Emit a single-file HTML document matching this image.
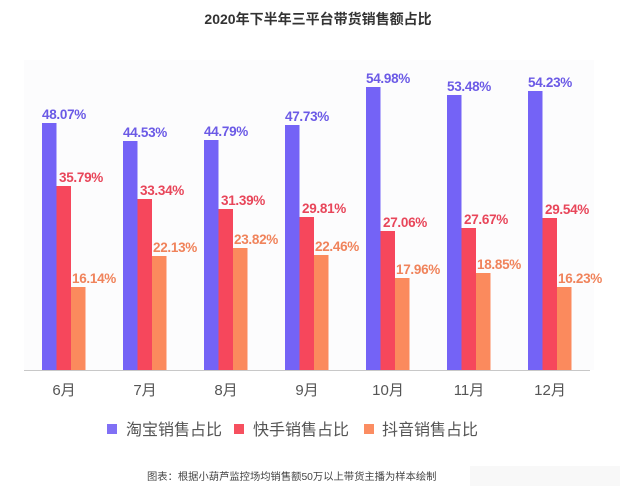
<!DOCTYPE html>
<html><head><meta charset="utf-8"><style>
html,body{margin:0;padding:0;background:#fff;}
svg{display:block;font-family:"Liberation Sans","Noto Sans CJK SC",sans-serif;}
.b{fill:#7463f6}.r{fill:#f6475c}.o{fill:#fb8a5d}
.lb{fill:#6b5ae6;font-weight:bold;font-size:13.5px;letter-spacing:-0.3px}
.lr{fill:#e8465a;font-weight:bold;font-size:13.5px;letter-spacing:-0.3px}
.lo{fill:#f0835b;font-weight:bold;font-size:13.5px;letter-spacing:-0.3px}
.m{fill:#555;font-size:15px;text-anchor:middle}
.lg{fill:#555;font-size:16px}
</style></head><body>
<svg width="638" height="502" viewBox="0 0 638 502">
<rect x="0" y="0" width="638" height="502" fill="#fff"/>
<rect x="24" y="60" width="570" height="310" fill="#fcfcfd"/>
<text x="318" y="24" text-anchor="middle" font-size="14" font-weight="bold" fill="#333">2020年下半年三平台带货销售额占比</text>
<line x1="24" y1="370.5" x2="590" y2="370.5" stroke="#c8c8c8" stroke-width="1"/>
<g>
<rect class="b" x="42" y="123" width="14.5" height="247"/><rect class="r" x="56.5" y="186" width="14.5" height="184"/><rect class="o" x="71" y="287" width="14.5" height="83"/>
<rect class="b" x="123" y="141" width="14.5" height="229"/><rect class="r" x="137.5" y="199" width="14.5" height="171"/><rect class="o" x="152" y="256" width="14.5" height="114"/>
<rect class="b" x="204" y="140" width="14.5" height="230"/><rect class="r" x="218.5" y="209" width="14.5" height="161"/><rect class="o" x="233" y="248" width="14.5" height="122"/>
<rect class="b" x="285" y="125" width="14.5" height="245"/><rect class="r" x="299.5" y="217" width="14.5" height="153"/><rect class="o" x="314" y="255" width="14.5" height="115"/>
<rect class="b" x="366" y="87" width="14.5" height="283"/><rect class="r" x="380.5" y="231" width="14.5" height="139"/><rect class="o" x="395" y="278" width="14.5" height="92"/>
<rect class="b" x="447" y="95" width="14.5" height="275"/><rect class="r" x="461.5" y="228" width="14.5" height="142"/><rect class="o" x="476" y="273" width="14.5" height="97"/>
<rect class="b" x="528" y="91" width="14.5" height="279"/><rect class="r" x="542.5" y="218" width="14.5" height="152"/><rect class="o" x="557" y="287" width="14.5" height="83"/>
</g>
<g>
<text class="lb" x="42" y="119">48.07%</text><text class="lr" x="59" y="182">35.79%</text><text class="lo" x="72" y="283">16.14%</text>
<text class="lb" x="123" y="137">44.53%</text><text class="lr" x="140" y="195">33.34%</text><text class="lo" x="153" y="252">22.13%</text>
<text class="lb" x="204" y="136">44.79%</text><text class="lr" x="221" y="205">31.39%</text><text class="lo" x="234" y="244">23.82%</text>
<text class="lb" x="285" y="121">47.73%</text><text class="lr" x="302" y="213">29.81%</text><text class="lo" x="315" y="251">22.46%</text>
<text class="lb" x="366" y="83">54.98%</text><text class="lr" x="383" y="227">27.06%</text><text class="lo" x="396" y="274">17.96%</text>
<text class="lb" x="447" y="91">53.48%</text><text class="lr" x="464" y="224">27.67%</text><text class="lo" x="477" y="269">18.85%</text>
<text class="lb" x="528" y="87">54.23%</text><text class="lr" x="545" y="214">29.54%</text><text class="lo" x="558" y="283">16.23%</text>
</g>
<g>
<text class="m" x="64" y="395">6月</text><text class="m" x="145" y="395">7月</text><text class="m" x="226" y="395">8月</text><text class="m" x="307" y="395">9月</text><text class="m" x="388" y="395">10月</text><text class="m" x="469" y="395">11月</text><text class="m" x="550" y="395">12月</text>
</g>
<rect x="107" y="424" width="10" height="10" fill="#8070f5"/>
<text class="lg" x="126" y="435">淘宝销售占比</text>
<rect x="234" y="424" width="10" height="10" fill="#f6505f"/>
<text class="lg" x="253" y="435">快手销售占比</text>
<rect x="364" y="424" width="10" height="10" fill="#fb8d62"/>
<text class="lg" x="382" y="435">抖音销售占比</text>
<text x="147" y="480" font-size="10.3" fill="#444">图表：根据小葫芦监控场均销售额50万以上带货主播为样本绘制</text>
<rect x="470" y="466" width="150" height="20" fill="#f4f4f4" opacity="0.6"/>
</svg>
</body></html>
